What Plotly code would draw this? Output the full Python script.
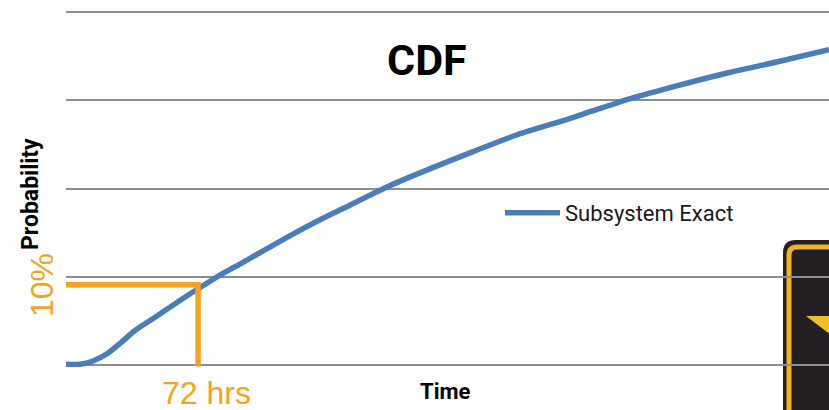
import plotly.graph_objects as go

# CDF curve of the subsystem: hours against cumulative probability
hours = [0, 7.6, 14.7, 22.4, 29.5, 37.6, 49.6, 60.5, 72, 84, 96.5, 109.6, 122, 138.5, 151,
         175, 200, 222, 246, 273, 287.5, 309, 333, 360.5, 388, 416]
probability = [0.001, 0.001, 0.005, 0.014, 0.027, 0.043, 0.061, 0.078, 0.095, 0.112, 0.128, 0.145, 0.161, 0.181, 0.195,
               0.222, 0.246, 0.266, 0.287, 0.306, 0.317, 0.333, 0.348, 0.364, 0.378, 0.393]
series_name = "Subsystem Exact"

# Reliability target read-off at 72 hours / 10 %
target_hours = 72
target_probability = 0.10
left_edge_hours = -1.6
bottom_edge_probability = -0.002

grid_values = [0, 0.11, 0.22, 0.33, 0.44]

BLUE = "#4A7EBB"
ORANGE = "#F6A21E"
GRID = "#8E8E8E"
WIDTH, HEIGHT = 829, 410
# The margins leave 2 px of slack so the first and last gridlines stay inside the plot area
M_L, M_R, M_T, M_B = 66, 0, 10, 43


def px(x):
    return (x - M_L) / (WIDTH - M_L - M_R)


def py(y):
    return 1 - (y - M_T) / (HEIGHT - M_T - M_B)


def rounded(x0, y0, x1, y1, r):
    return (
        f"M {px(x0)} {py(y1)} L {px(x0)} {py(y0 + r)} "
        f"Q {px(x0)} {py(y0)} {px(x0 + r)} {py(y0)} "
        f"L {px(x1)} {py(y0)} L {px(x1)} {py(y1)} Z"
    )


fig = go.Figure()
fig.add_trace(go.Scatter(
    x=hours, y=probability, mode="lines", name=series_name,
    line=dict(color=BLUE, width=5.5, shape="spline", smoothing=0.8),
    cliponaxis=False,
))
fig.add_trace(go.Scatter(
    x=[left_edge_hours, target_hours, target_hours],
    y=[target_probability, target_probability, bottom_edge_probability],
    mode="lines", showlegend=False, hoverinfo="skip",
    line=dict(color=ORANGE, width=5.5),
    cliponaxis=False,
))

# Warning sign at the lower right, running off the page
sign_shapes = [
    dict(type="path", path=rounded(783, 240, 840, 430, 13), fillcolor="#2A1E20",
         line=dict(width=0), layer="below"),
    dict(type="path", path=rounded(789, 247, 840, 430, 8), fillcolor="#241D22",
         line=dict(color="#EDB51F", width=5), layer="below"),
    dict(type="path",
         path=f"M {px(806)} {py(316)} L {px(835)} {py(316)} L {px(835)} {py(338)} Z",
         fillcolor="#EDC024", line=dict(width=0), layer="below"),
]
for s in sign_shapes:
    s.update(xref="paper", yref="paper")

annotations = [
    dict(text="<b>CDF</b>", x=px(427), y=py(60), font=dict(size=43, color="#000000", family="Roboto")),
    dict(text="<b>Probability</b>", x=px(31), y=py(194), textangle=-90, font=dict(size=23, color="#000000", family="Roboto")),
    dict(text="<b>Time</b>", x=px(445), y=py(391), font=dict(size=22, color="#000000", family="Roboto")),
    dict(text="10%", x=px(42), y=py(285), textangle=-90, font=dict(size=32, color=ORANGE, family="Liberation Sans")),
    dict(text="72 hrs", x=px(206), y=py(413), yanchor="bottom", font=dict(size=32, color=ORANGE, family="Liberation Sans")),
]
for a in annotations:
    a.setdefault("yanchor", "middle")
    a.update(xref="paper", yref="paper", showarrow=False, xanchor="center")

fig.update_layout(
    width=WIDTH, height=HEIGHT,
    margin=dict(l=M_L, r=M_R, t=M_T, b=M_B),
    paper_bgcolor="white", plot_bgcolor="white",
    font=dict(family="Roboto"),
    showlegend=True,
    legend=dict(
        x=px(500), y=py(213), xanchor="left", yanchor="middle",
        bgcolor="rgba(0,0,0,0)", itemwidth=55,
        font=dict(size=22, color="#1a1a1a", family="Roboto"),
    ),
    xaxis=dict(range=[0, 416], showgrid=False, zeroline=False, showticklabels=False, ticks="", showline=False),
    yaxis=dict(range=[-0.0025, 0.4425], tickvals=grid_values, showgrid=True, gridcolor=GRID, gridwidth=2,
               zeroline=False, showticklabels=False, ticks="", showline=False),
    shapes=sign_shapes,
    annotations=annotations,
)

fig.write_html("out.html", config=dict(displayModeBar=False))
